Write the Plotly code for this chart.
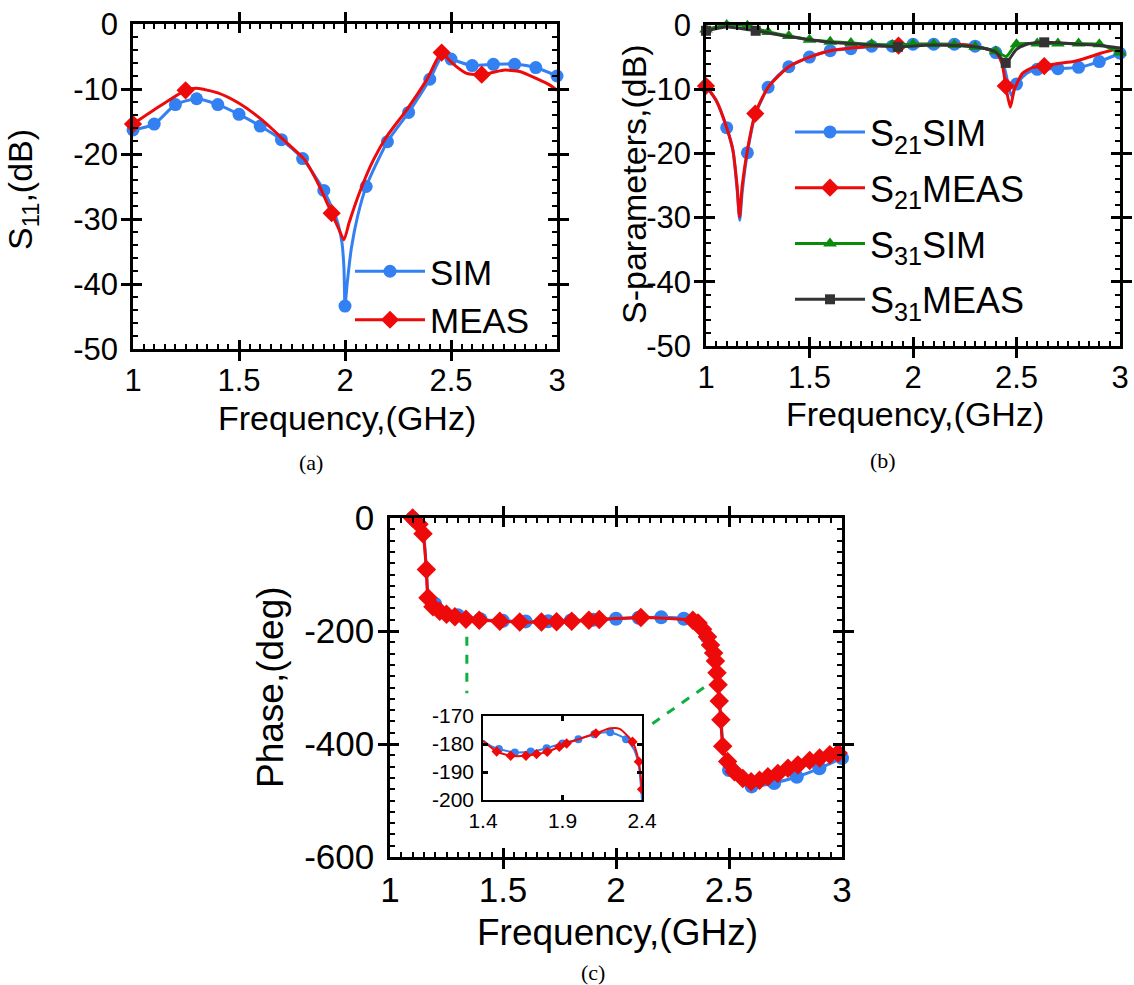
import plotly.graph_objects as go

# ---------------- (a) S11 ----------------
s11_sim_mk_f = [1.0, 1.1, 1.2, 1.3, 1.4, 1.5, 1.6, 1.7, 1.8, 1.9, 2.0, 2.1, 2.2, 2.3, 2.4, 2.5, 2.6, 2.7, 2.8, 2.9, 3.0]
s11_sim_mk_db = [-16.3, -15.4, -12.4, -11.5, -12.4, -13.9, -15.7, -17.8, -20.7, -25.6, -43.4, -25.0, -18.1, -13.6, -8.5, -5.4, -6.4, -6.2, -6.2, -6.7, -8.0]
s11_sim_ex_f = [1.96, 1.985, 1.995, 2.01, 2.03, 2.06, 2.46]
s11_sim_ex_db = [-30.0, -33.5, -37.5, -40.0, -34.5, -29.5, -4.9]

s11_meas_f = [1.0, 1.1, 1.248, 1.3, 1.4, 1.5, 1.61, 1.71, 1.81, 1.88, 1.937, 1.97, 1.995, 2.02, 2.07, 2.134, 2.197, 2.291, 2.385, 2.456, 2.49, 2.527, 2.574, 2.645, 2.747, 2.825, 2.904, 2.967, 3.0]
s11_meas_db = [-15.4, -13.2, -10.2, -9.9, -10.6, -12.2, -14.8, -17.8, -20.9, -25.0, -29.1, -31.5, -33.2, -30.5, -25.8, -20.9, -17.3, -13.2, -8.6, -4.4, -5.5, -6.6, -7.6, -7.8, -7.1, -7.3, -8.4, -9.4, -10.2]
s11_meas_mk_f = [1.0, 1.248, 1.937, 2.456, 2.645]
s11_meas_mk_db = [-15.4, -10.2, -29.1, -4.4, -7.8]

# ---------------- (b) S21 / S31 ----------------
grid_f = [1.0, 1.1, 1.2, 1.3, 1.4, 1.5, 1.6, 1.7, 1.8, 1.9, 2.0, 2.1, 2.2, 2.3, 2.4, 2.5, 2.6, 2.7, 2.8, 2.9, 3.0]
s21_sim_mk_db = [-9.5, -16.0, -19.9, -9.7, -6.5, -5.0, -4.0, -3.7, -3.3, -3.3, -3.0, -3.0, -3.0, -3.3, -4.3, -9.2, -6.9, -6.8, -6.6, -5.7, -4.4]
s21_sim_ex_f = [1.05, 1.13, 1.15, 1.163, 1.175, 1.24, 1.35, 2.44, 2.475, 2.55]
s21_sim_ex_db = [-11.8, -19.5, -25.5, -30.4, -26.0, -13.8, -7.8, -6.5, -11.0, -7.5]

s21_meas_f = [1.0, 1.05, 1.1, 1.13, 1.15, 1.162, 1.175, 1.2, 1.238, 1.3, 1.4, 1.5, 1.6, 1.7, 1.8, 1.93, 2.0, 2.1, 2.2, 2.3, 2.4, 2.43, 2.448, 2.47, 2.49, 2.53, 2.58, 2.634, 2.7, 2.776, 2.85, 2.906, 2.95, 3.0]
s21_meas_db = [-9.5, -11.8, -16.0, -19.5, -25.0, -29.9, -25.0, -19.5, -13.8, -9.7, -6.5, -5.0, -4.0, -3.6, -3.3, -3.2, -3.0, -3.0, -3.0, -3.3, -4.3, -6.0, -9.5, -12.8, -10.0, -7.5, -6.6, -6.4, -6.0, -5.7, -5.0, -4.4, -4.0, -3.6]
s21_meas_mk_f = [1.0, 1.238, 1.93, 2.448, 2.634]
s21_meas_mk_db = [-9.5, -13.8, -3.2, -9.5, -6.4]

s31_sim_mk_db = [-0.7, 0.0, -0.1, -1.1, -1.7, -2.3, -2.6, -2.8, -3.0, -3.1, -3.0, -3.0, -3.1, -3.4, -4.1, -3.0, -2.9, -2.9, -2.9, -3.0, -4.3]
s31_sim_ex_f = [2.45]
s31_sim_ex_db = [-4.9]

s31_meas_f = [1.0, 1.1, 1.24, 1.4, 1.6, 1.8, 1.927, 2.1, 2.3, 2.4, 2.448, 2.5, 2.55, 2.634, 2.8, 2.9, 3.0]
s31_meas_db = [-0.9, -0.3, -0.9, -1.8, -2.7, -3.1, -3.4, -3.1, -3.4, -4.2, -5.9, -3.8, -3.0, -2.7, -3.0, -3.2, -3.6]
s31_meas_mk_f = [1.0, 1.24, 1.927, 2.448, 2.634]
s31_meas_mk_db = [-0.9, -0.9, -3.4, -5.9, -2.7]

# ---------------- (c) Phase ----------------
ph_sim_mk_f = [1.1, 1.2, 1.3, 1.4, 1.5, 1.6, 1.7, 1.8, 1.9, 2.0, 2.1, 2.2, 2.3, 2.4, 2.5, 2.6, 2.7, 2.8, 2.9, 3.0]
ph_sim_mk_deg = [0, -152, -172, -179, -182, -183, -182.7, -181.5, -180, -178.3, -176.5, -175.8, -178.3, -210, -446, -475, -469, -458, -443, -425]
ph_sim_ex_f = [1.13, 1.15, 1.16, 1.17, 1.19, 1.25, 2.35, 2.38, 2.42, 2.44, 2.455, 2.465, 2.475, 2.49, 2.55]
ph_sim_ex_deg = [-14, -35, -90, -135, -148, -166, -186, -196, -232, -265, -310, -360, -405, -435, -465]

ph_meas_f = [1.1, 1.128, 1.146, 1.161, 1.168, 1.19, 1.22, 1.25, 1.287, 1.336, 1.395, 1.486, 1.574, 1.67, 1.737, 1.804, 1.88, 1.926, 2.11, 2.34, 2.363, 2.383, 2.405, 2.418, 2.432, 2.44, 2.447, 2.452, 2.457, 2.464, 2.472, 2.494, 2.524, 2.561, 2.598, 2.635, 2.672, 2.716, 2.761, 2.805, 2.857, 2.901, 2.946, 2.983]
ph_meas_deg = [0, -11, -28, -91, -141, -157, -165, -170.5, -175, -179, -181, -182.7, -184.2, -184.2, -183.6, -182.8, -181, -179.8, -176.2, -181, -186, -197, -210, -225, -239, -253, -274, -295, -324, -357, -404, -431, -449, -461, -467, -464, -458, -452, -443, -437, -429, -425, -419, -416]
ph_meas_end_f = [3.0]
ph_meas_end_deg = [-419]

# inset (zoom 1.4 - 2.4 GHz)
in_sim_f = [1.4, 1.45, 1.5, 1.6, 1.7, 1.8, 1.9, 2.0, 2.1, 2.2, 2.3, 2.35, 2.38, 2.4]
in_sim_deg = [-178.8, -180.8, -181.8, -183.0, -182.7, -181.5, -179.8, -178.3, -176.5, -175.8, -178.3, -182.0, -188.0, -200.0]
in_sim_mk_f = [1.5, 1.6, 1.7, 1.8, 1.9, 2.0, 2.1, 2.2, 2.3]
in_sim_mk_deg = [-181.8, -183.0, -182.7, -181.5, -179.8, -178.3, -176.5, -175.8, -178.3]
in_meas_f = [1.4, 1.486, 1.574, 1.67, 1.737, 1.804, 1.88, 1.926, 2.0, 2.11, 2.2, 2.26, 2.34, 2.38, 2.4]
in_meas_deg = [-178.8, -182.7, -184.2, -184.2, -183.6, -182.8, -181.0, -179.8, -178.3, -176.2, -174.4, -174.6, -179.2, -186.3, -196.2]
in_meas_mk_f = [1.486, 1.574, 1.67, 1.737, 1.804, 1.88, 1.926, 2.11, 2.34, 2.38, 2.4]
in_meas_mk_deg = [-182.7, -184.2, -184.2, -183.6, -182.8, -181.0, -179.8, -176.2, -179.2, -186.3, -196.2]

# tick values / labels (plain hyphen minus as in the figure)
db_ticks = [-50, -40, -30, -20, -10, 0]
db_labels = ["-50", "-40", "-30", "-20", "-10", "0"]
ph_ticks = [-600, -400, -200, 0]
ph_labels = ["-600", "-400", "-200", "0"]
in_y_ticks = [-200, -190, -180, -170]
in_y_labels = ["-200", "-190", "-180", "-170"]
f_ticks = [1, 1.5, 2, 2.5, 3]
f_labels = ["1", "1.5", "2", "2.5", "3"]
in_x_ticks = [1.4, 1.9, 2.4]
in_x_labels = ["1.4", "1.9", "2.4"]

BLUE = "#3380F2"
RED = "#EE0A0A"
GREEN = "#0A8C0A"
DARK = "#333333"
FONT = "Liberation Sans, Arial, sans-serif"
SERIF = "Liberation Serif, Times New Roman, serif"


def merged(f1, v1, f2, v2):
    pts = sorted(zip(list(f1) + list(f2), list(v1) + list(v2)))
    return [p[0] for p in pts], [p[1] for p in pts]


fig = go.Figure()


def add_series(xa, ya, lf, lv, mf, mv, color, symbol, msize, lw, name=None, legend=None, clip=False):
    fig.add_trace(go.Scatter(x=lf, y=lv, mode="lines", line=dict(color=color, width=lw, shape="spline", smoothing=0.6),
                             xaxis=xa, yaxis=ya, showlegend=False, cliponaxis=clip, hoverinfo="skip"))
    fig.add_trace(go.Scatter(x=mf, y=mv, mode="markers", marker=dict(color=color, symbol=symbol, size=msize, line=dict(width=0)),
                             xaxis=xa, yaxis=ya, showlegend=False, cliponaxis=clip))
    if name is not None:
        fig.add_trace(go.Scatter(x=[None], y=[None], mode="lines+markers", name=name, legend=legend,
                                 legendgroup=name,
                                 line=dict(color=color, width=lw),
                                 marker=dict(color=color, symbol=symbol, size=msize, line=dict(width=0)),
                                 xaxis=xa, yaxis=ya))


# (a)
f, v = merged(s11_sim_mk_f, s11_sim_mk_db, s11_sim_ex_f, s11_sim_ex_db)
add_series("x", "y", f, v, s11_sim_mk_f, s11_sim_mk_db, BLUE, "circle", 13, 3, "SIM", "legend")
add_series("x", "y", s11_meas_f, s11_meas_db, s11_meas_mk_f, s11_meas_mk_db, RED, "diamond", 14, 3, "MEAS", "legend")

# (b)
f, v = merged(grid_f, s21_sim_mk_db, s21_sim_ex_f, s21_sim_ex_db)
add_series("x2", "y2", f, v, grid_f, s21_sim_mk_db, BLUE, "circle", 13, 3, "S<sub>21</sub>SIM", "legend2")
add_series("x2", "y2", s21_meas_f, s21_meas_db, s21_meas_mk_f, s21_meas_mk_db, RED, "diamond", 14, 3, "S<sub>21</sub>MEAS", "legend2")
f, v = merged(grid_f, s31_sim_mk_db, s31_sim_ex_f, s31_sim_ex_db)
add_series("x2", "y2", f, v, grid_f, s31_sim_mk_db, GREEN, "triangle-up", 12, 3, "S<sub>31</sub>SIM", "legend2")
add_series("x2", "y2", s31_meas_f, s31_meas_db, s31_meas_mk_f, s31_meas_mk_db, DARK, "square", 10, 3, "S<sub>31</sub>MEAS", "legend2")

# (c)
f, v = merged(ph_sim_mk_f, ph_sim_mk_deg, ph_sim_ex_f, ph_sim_ex_deg)
add_series("x3", "y3", f, v, ph_sim_mk_f, ph_sim_mk_deg, BLUE, "circle", 14, 3)
f, v = merged(ph_meas_f, ph_meas_deg, ph_meas_end_f, ph_meas_end_deg)
add_series("x3", "y3", f, v, ph_meas_f, ph_meas_deg, RED, "diamond", 15, 3)

# inset
add_series("x4", "y4", in_sim_f, in_sim_deg, in_sim_mk_f, in_sim_mk_deg, BLUE, "circle", 8, 2, clip=True)
add_series("x4", "y4", in_meas_f, in_meas_deg, in_meas_mk_f, in_meas_mk_deg, RED, "diamond", 8, 2, clip=True)

# empty traces that register the minor-tick overlay axes
for xa, ya in [("x5", "y"), ("x", "y5"), ("x6", "y2"), ("x2", "y6"), ("x7", "y3"), ("x3", "y7")]:
    fig.add_trace(go.Scatter(x=[None], y=[None], xaxis=xa, yaxis=ya, showlegend=False, hoverinfo="skip"))

W, H = 1134, 985


def px(x):
    return x / W


def py(y):
    return 1 - y / H


def axis(dom, rng, tv, tt, anchor, size=31, lw=2.5, tl=9, standoff=2):
    return dict(domain=dom, range=rng, anchor=anchor, showline=True, mirror="allticks", linecolor="black",
                linewidth=lw, ticks="inside", ticklen=tl, tickwidth=2.5, tickcolor="black", showgrid=False,
                zeroline=False, tickfont=dict(family=FONT, size=size, color="black"), automargin=False,
                ticklabelstandoff=standoff, fixedrange=True, tickmode="array", tickvals=tv, ticktext=tt)


def minor_axis(over, rng, dtick, anchor):
    return dict(overlaying=over, anchor=anchor, range=rng, tickmode="linear", tick0=min(rng), dtick=dtick,
                ticks="inside", ticklen=5, tickwidth=2, tickcolor="black", showticklabels=False,
                showline=True, linecolor="black", linewidth=2.5, mirror="allticks", showgrid=False,
                zeroline=False, automargin=False, fixedrange=True)


fig.update_layout(
    template="none",
    width=W, height=H, margin=dict(l=0, r=0, t=0, b=0, autoexpand=False),
    paper_bgcolor="white", plot_bgcolor="rgba(0,0,0,0)",
    xaxis=axis([px(133), px(557)], [1, 3], f_ticks, f_labels, "y", standoff=2),
    yaxis=axis([py(349), py(24)], [-50, 0], db_ticks, db_labels, "x", standoff=6),
    xaxis2=axis([px(706), px(1120)], [1, 3], f_ticks, f_labels, "y2", standoff=2),
    yaxis2=axis([py(346), py(25)], [-50, 0], db_ticks, db_labels, "x2", standoff=6),
    xaxis3=axis([px(390), px(842)], [1, 3], f_ticks, f_labels, "y3", size=35, standoff=0),
    yaxis3=axis([py(857), py(518)], [-600, 0], ph_ticks, ph_labels, "x3", size=35, standoff=6),
    xaxis4=axis([px(483), px(642)], [1.4, 2.4], in_x_ticks, in_x_labels, "y4", size=21, lw=1.5, tl=5, standoff=1),
    yaxis4=axis([py(800), py(716)], [-200, -170], in_y_ticks, in_y_labels, "x4", size=21, lw=1.5, tl=5, standoff=3),
    xaxis5=minor_axis("x", [1, 3], 0.05, "y"),
    yaxis5=minor_axis("y", [-50, 0], 2, "x"),
    xaxis6=minor_axis("x2", [1, 3], 0.05, "y2"),
    yaxis6=minor_axis("y2", [-50, 0], 2, "x2"),
    xaxis7=minor_axis("x3", [1, 3], 0.05, "y3"),
    yaxis7=minor_axis("y3", [-600, 0], 20, "x3"),
    legend=dict(x=px(350), y=py(242), xanchor="left", yanchor="top", bgcolor="rgba(0,0,0,0)",
                font=dict(family=FONT, size=35, color="black"), itemwidth=70, tracegroupgap=0),
    legend2=dict(x=px(790), y=py(102), xanchor="left", yanchor="top", bgcolor="rgba(0,0,0,0)",
                 font=dict(family=FONT, size=36, color="black"), itemwidth=70, tracegroupgap=6),
    showlegend=True,
)

# dashed connectors for the inset
fig.add_shape(type="line", xref="x3", yref="y3", x0=1.34, x1=1.34, y0=-210, y1=-310,
              line=dict(color="#10B040", width=3, dash="dash"))
fig.add_shape(type="line", xref="x3", yref="y3", x0=2.389, x1=2.161, y0=-300, y1=-364,
              line=dict(color="#10B040", width=3, dash="dash"))

TF = dict(family=FONT, size=34, color="black")
TF3 = dict(family=FONT, size=37, color="black")
PF = dict(family=SERIF, size=22, color="black")
ann = [
    dict(text="Frequency,(GHz)", x=px(347), y=py(418), font=TF),
    dict(text="S<sub>11</sub>,(dB)", x=px(22), y=py(190), font=TF, textangle=-90),
    dict(text="Frequency,(GHz)", x=px(915), y=py(414), font=TF),
    dict(text="S-parameters,(dB)", x=px(634), y=py(184), font=TF, textangle=-90),
    dict(text="Frequency,(GHz)", x=px(617), y=py(932), font=TF3),
    dict(text="Phase,(deg)", x=px(270), y=py(687), font=TF3, textangle=-90),
    dict(text="(a)", x=px(311), y=py(462), font=PF),
    dict(text="(b)", x=px(883), y=py(460), font=PF),
    dict(text="(c)", x=px(593), y=py(972), font=PF),
]
for a in ann:
    a.update(xref="paper", yref="paper", showarrow=False, xanchor="center", yanchor="middle")
    fig.add_annotation(**a)

fig.write_html("out.html")
